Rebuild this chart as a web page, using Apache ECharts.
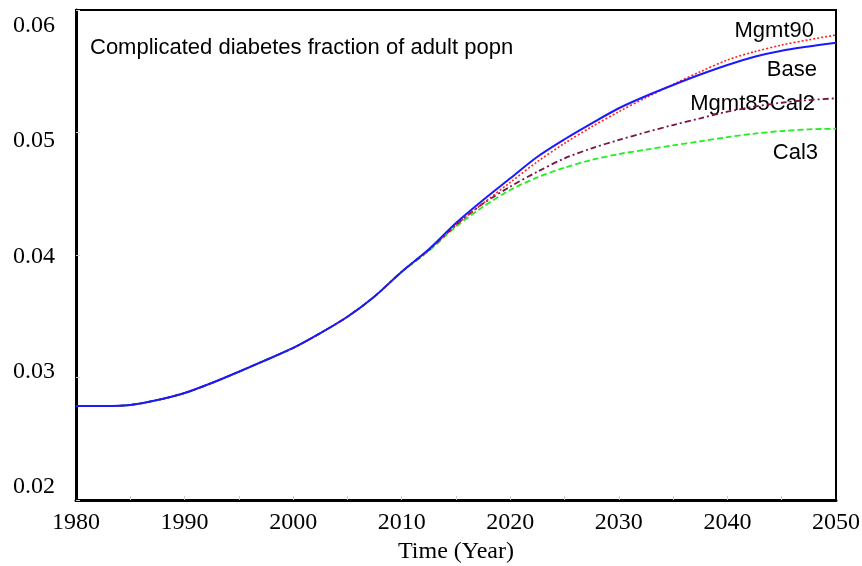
<!DOCTYPE html>
<html>
<head>
<meta charset="utf-8">
<script src="https://cdn.jsdelivr.net/npm/echarts@6/dist/echarts.min.js"></script>
<style>
html,body{margin:0;padding:0;background:#fff;}
#chart{width:862px;height:566px;}
</style>
</head>
<body>
<div id="chart"></div>
<script>
var years = [1980,1982.5,1985,1987.5,1990,1992.5,1995,1997.5,2000,2002.5,2005,2007.5,2010,2012.5,2015,2017.5,2020,2022.5,2025,2027.5,2030,2032.5,2035,2037.5,2040,2042.5,2045,2047.5,2050];
var base =       [0.02767,0.02767,0.02776,0.02816,0.02873,0.02955,0.03047,0.03143,0.03241,0.03362,0.03496,0.03662,0.03864,0.04047,0.04261,0.04449,0.04626,0.04802,0.04945,0.05075,0.05198,0.05298,0.05388,0.05473,0.05551,0.05619,0.05668,0.05702,0.05733];
var mgmt90 =     [0.02767,0.02767,0.02776,0.02816,0.02873,0.02955,0.03047,0.03143,0.03241,0.03362,0.03496,0.03662,0.03864,0.04041,0.04245,0.04422,0.04593,0.04762,0.04912,0.05047,0.05170,0.05285,0.05393,0.05496,0.05592,0.05660,0.05714,0.05757,0.05796];
var mgmt85Cal2 = [0.02767,0.02767,0.02776,0.02816,0.02873,0.02955,0.03047,0.03143,0.03241,0.03362,0.03496,0.03662,0.03864,0.04041,0.04245,0.04420,0.04558,0.04680,0.04789,0.04871,0.04939,0.05002,0.05061,0.05116,0.05170,0.05211,0.05243,0.05265,0.05279];
var cal3 =       [0.02767,0.02767,0.02776,0.02816,0.02873,0.02955,0.03047,0.03143,0.03241,0.03362,0.03496,0.03662,0.03861,0.04033,0.04231,0.04394,0.04531,0.04634,0.04713,0.04776,0.04824,0.04860,0.04895,0.04928,0.04962,0.04991,0.05012,0.05026,0.05031];
var yTickLabels = [0.02,0.03,0.04,0.05,0.06];
var chartTitle = 'Complicated diabetes fraction of adult popn';
var xName = 'Time (Year)';
var seriesNames = ['Cal3','Mgmt85Cal2','Mgmt90','Base'];

function pairs(arr){ return years.map(function(y,i){ return [y, arr[i]]; }); }

var chart = echarts.init(document.getElementById('chart'), null, {renderer:'canvas'});
var serif = '"Liberation Serif","Times New Roman",serif';
var sans = '"Liberation Sans",Arial,sans-serif';

var option = {
  animation:false,
  backgroundColor:'#fff',
  grid:{left:76,right:26,top:10,bottom:66,show:true,borderColor:'#000',borderWidth:2,backgroundColor:'transparent',
    containLabel:false,outerBoundsMode:'none'},
  xAxis:{
    type:'value',min:1980,max:2050,interval:10,
    name:xName,nameLocation:'middle',nameGap:40,
    nameTextStyle:{fontFamily:serif,fontSize:24,color:'#000'},
    axisLine:{show:true,onZero:false,lineStyle:{color:'#000',width:3}},
    axisTick:{show:true,inside:true,length:4,lineStyle:{color:'#ccc'},customValues:[1985,1990,1995,2000,2005,2010,2015,2020,2025,2030,2035,2040,2045]},
    axisLabel:{fontFamily:serif,fontSize:24,color:'#000',margin:11,showMinLabel:true,showMaxLabel:true,
      formatter:function(v){return String(v);}},
    splitLine:{show:false}
  },
  yAxis:[{
    type:'value',min:0.02,max:0.06,interval:0.01,position:'left',
    axisLine:{show:true,onZero:false,lineStyle:{color:'#000',width:3}},
    axisTick:{show:true,inside:true,length:4,lineStyle:{color:'#ccc'}},
    axisLabel:{show:false},
    splitLine:{show:false}
  },{
    type:'value',min:0.0188732,max:0.0613434,position:'left',
    axisLine:{show:false},axisTick:{show:false},splitLine:{show:false},
    axisLabel:{fontFamily:serif,fontSize:24,color:'#000',margin:21,customValues:yTickLabels,
      formatter:function(v){return v.toFixed(2);}}
  }],
  graphic:[
    {type:'text',x:90,y:47.5,style:{text:chartTitle,font:'22px '+sans,fill:'#000',textAlign:'left',textVerticalAlign:'middle'}},
    {type:'text',x:814,y:30.5,style:{text:'Mgmt90',font:'22px '+sans,fill:'#000',textAlign:'right',textVerticalAlign:'middle'}},
    {type:'text',x:817,y:69.5,style:{text:'Base',font:'22px '+sans,fill:'#000',textAlign:'right',textVerticalAlign:'middle'}},
    {type:'text',x:815,y:104,style:{text:'Mgmt85Cal2',font:'22px '+sans,fill:'#000',textAlign:'right',textVerticalAlign:'middle'}},
    {type:'text',x:818,y:152.5,style:{text:'Cal3',font:'22px '+sans,fill:'#000',textAlign:'right',textVerticalAlign:'middle'}}
  ],
  series:[
    {name:seriesNames[0],type:'line',data:pairs(cal3),showSymbol:false,smooth:0.3,z:2,
      lineStyle:{color:'#22ee22',width:1.8,type:[6,3]}},
    {name:seriesNames[1],type:'line',data:pairs(mgmt85Cal2),showSymbol:false,smooth:0.3,z:3,
      lineStyle:{color:'#7a1444',width:1.8,type:[6,3,2,3]}},
    {name:seriesNames[2],type:'line',data:pairs(mgmt90),showSymbol:false,smooth:0.3,z:4,
      lineStyle:{color:'#ff2020',width:1.6,type:[2,2]}},
    {name:seriesNames[3],type:'line',data:pairs(base),showSymbol:false,smooth:0.3,z:5,
      lineStyle:{color:'#1a1aff',width:2}}
  ]
};
chart.setOption(option);
</script>
</body>
</html>
